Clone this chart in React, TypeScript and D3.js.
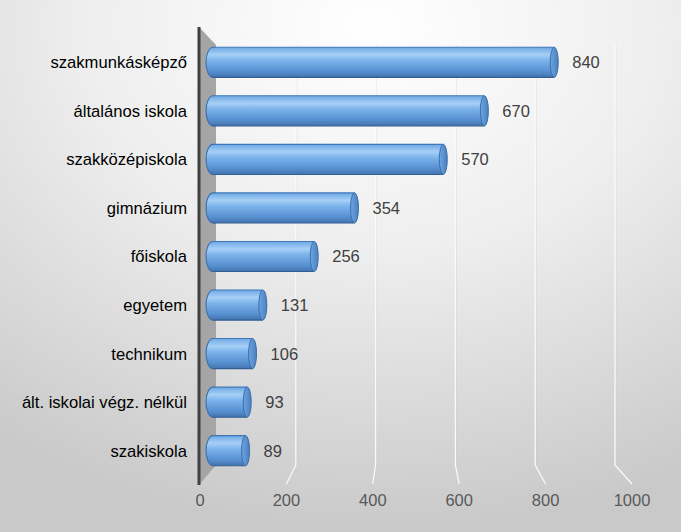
import * as d3 from 'd3'

const categories = [
  'szakmunkásképző',
  'általános iskola',
  'szakközépiskola',
  'gimnázium',
  'főiskola',
  'egyetem',
  'technikum',
  'ált. iskolai végz. nélkül',
  'szakiskola'
]
const values = [840, 670, 570, 354, 256, 131, 106, 93, 89]
const ticks = [0, 200, 400, 600, 800, 1000]

const W = 681
const H = 532

// 3D-ish chart geometry
const wallTop = 45
const wallBottom = 465
const frontBottom = 484

export default function App() {
  const xFront = d3.scaleLinear().domain([0, 1000]).range([200, 632])
  const xBack = d3.scaleLinear().domain([0, 1000]).range([216, 615])
  const xBar = d3.scaleLinear().domain([0, 1000]).range([213, 624])
  const y = d3.scaleBand<string>().domain(categories).range([38, 475])
  const barH = y.bandwidth() * 0.62
  const capRx = 4

  const font = '"Liberation Sans", Arial, sans-serif'

  return (
    <svg width={W} height={H} style={{ position: 'absolute', left: 0, top: 0 }}>
      <defs>
        <radialGradient id="bg" cx="0.55" cy="0.05" r="0.95">
          <stop offset="0" stopColor="#ffffff" />
          <stop offset="0.45" stopColor="#eeeeee" />
          <stop offset="1" stopColor="#c9c9c9" />
        </radialGradient>
        <linearGradient id="body" x1="0" y1="0" x2="0" y2="1">
          <stop offset="0" stopColor="#6fa8e4" />
          <stop offset="0.25" stopColor="#a6cff6" />
          <stop offset="0.45" stopColor="#7ab2eb" />
          <stop offset="0.8" stopColor="#5790d0" />
          <stop offset="1" stopColor="#4373ad" />
        </linearGradient>
        <linearGradient id="cap" x1="0" y1="0" x2="1" y2="0">
          <stop offset="0" stopColor="#6ea5df" />
          <stop offset="1" stopColor="#4a80c0" />
        </linearGradient>
      </defs>

      <rect x={0} y={0} width={W} height={H} fill="url(#bg)" />

      {/* gridlines: back wall + floor */}
      {ticks.slice(1).map(t => (
        <g key={t}>
          <path
            d={`M${xBack(t) + 1},${wallTop} L${xBack(t) + 1},${wallBottom} L${xFront(t) + 1},${frontBottom}`}
            fill="none"
            stroke="#c4c4c4"
            strokeOpacity={0.3}
            strokeWidth={1}
          />
          <path
            d={`M${xBack(t)},${wallTop} L${xBack(t)},${wallBottom} L${xFront(t)},${frontBottom}`}
            fill="none"
            stroke="#fafafa"
            strokeWidth={1.3}
          />
        </g>
      ))}

      {/* left side wall */}
      <polygon
        points={`199,27 216,${wallTop} 216,${wallBottom} 199,${frontBottom + 1}`}
        fill="#a5a5a5"
      />
      <line x1={199} x2={199} y1={27} y2={frontBottom + 1} stroke="#404040" strokeWidth={3} />

      {/* cylinders */}
      {categories.map((c, i) => {
        const cy = (y(c) || 0) + y.bandwidth() / 2
        const top = cy - barH / 2
        const x0 = xBar(0)
        const x1 = xBar(values[i])
        return (
          <g key={c}>
            <ellipse cx={x0} cy={cy} rx={capRx + 3} ry={barH / 2} fill="url(#body)" stroke="#3a70ad" strokeWidth={1.1} />
            <rect x={x0} y={top} width={x1 - capRx - x0} height={barH} fill="url(#body)" />
            <line x1={x0} x2={x1 - capRx} y1={top} y2={top} stroke="#3f78b8" strokeWidth={1.1} />
            <line x1={x0} x2={x1 - capRx} y1={top + barH} y2={top + barH} stroke="#335f92" strokeWidth={1.1} />
            <ellipse cx={x1 - capRx} cy={cy} rx={capRx} ry={barH / 2} fill="url(#cap)" stroke="#3a70ad" strokeWidth={1} />
            <text
              x={x1 + 14}
              y={cy}
              dy="0.36em"
              fontFamily={font}
              fontSize={16.5}
              fill="#404040"
            >
              {values[i]}
            </text>
            <text
              x={187}
              y={cy}
              dy="0.36em"
              textAnchor="end"
              fontFamily={font}
              fontSize={16.6}
              fill="#000000"
            >
              {c}
            </text>
          </g>
        )
      })}

      {/* value axis */}
      {ticks.map(t => (
        <text
          key={t}
          x={xFront(t)}
          y={506}
          textAnchor="middle"
          fontFamily={font}
          fontSize={16.5}
          fill="#595959"
        >
          {t}
        </text>
      ))}
    </svg>
  )
}
